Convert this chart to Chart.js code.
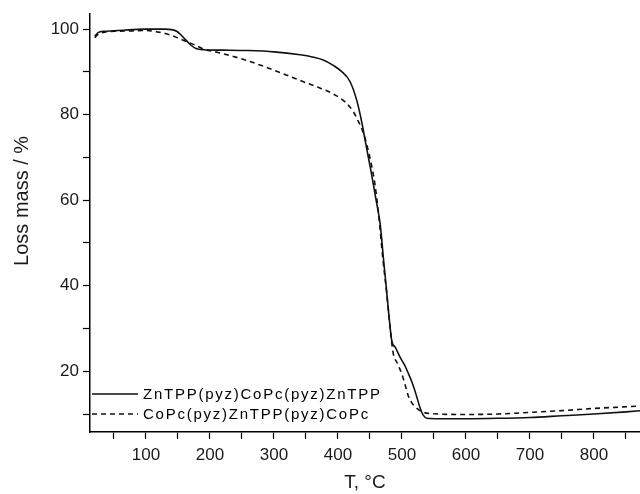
<!DOCTYPE html>
<html>
<head>
<meta charset="utf-8">
<script src="https://cdn.jsdelivr.net/npm/chart.js@4/dist/chart.umd.min.js"></script>
<style>
  html, body { margin: 0; padding: 0; background: #fff; }
  #wrap { width: 640px; height: 494px; }
</style>
</head>
<body>
<div id="wrap"><canvas id="chart"></canvas></div>
<script>
// series names (legend)
const seriesNames = ['ZnTPP(pyz)CoPc(pyz)ZnTPP', 'CoPc(pyz)ZnTPP(pyz)CoPc'];

// ZnTPP(pyz)CoPc(pyz)ZnTPP - solid
const zntppTemp = [20, 25, 35, 50, 80, 100, 130, 140, 148, 155, 162, 170, 178, 190, 220, 260, 300, 341, 360, 377, 392, 405, 419, 430, 437, 445, 452, 459, 466, 471, 476, 480, 484, 490, 497, 504, 510, 516, 522, 528, 533, 539, 560, 600, 650, 700, 750, 800, 850, 875];
const zntppMass = [98.3, 99.2, 99.5, 99.6, 99.9, 100, 100, 99.9, 99.5, 98.6, 97.5, 96.3, 95.5, 95.2, 95.1, 95.0, 94.7, 94.0, 93.5, 92.8, 91.6, 90.2, 87.7, 83.0, 78.4, 72.0, 66.5, 60.5, 54.4, 46.5, 38.8, 32.5, 27.2, 25.5, 23.3, 21.5, 19.5, 17.3, 14.6, 11.6, 9.8, 9.0, 8.9, 8.9, 9.0, 9.2, 9.6, 10.0, 10.5, 10.8];

// CoPc(pyz)ZnTPP(pyz)CoPc - dashed
const copcTemp = [20, 25, 35, 50, 80, 100, 120, 139, 152, 165, 178, 191, 205, 222, 255, 286, 319, 346, 367, 392, 411, 424, 432, 439, 445, 452, 458, 464, 470, 476, 481, 486, 493, 500, 505, 510, 516, 523, 532, 544, 600, 650, 700, 750, 800, 850, 875];
const copcMass = [98.0, 98.8, 99.3, 99.5, 99.6, 99.7, 99.3, 98.6, 97.8, 97.0, 96.2, 95.3, 94.8, 94.2, 92.8, 91.2, 89.3, 87.7, 86.5, 84.9, 83.0, 80.7, 78.4, 76.0, 73.0, 68.5, 63.5, 56, 46.5, 38.5, 31, 24.5, 21.8, 19.3, 16.8, 14.2, 12.5, 11.4, 10.5, 10.1, 9.9, 10.0, 10.4, 10.8, 11.3, 11.7, 11.9];

// axis ticks (every other one gets a label)
const xTicks = [50, 100, 150, 200, 250, 300, 350, 400, 450, 500, 550, 600, 650, 700, 750, 800, 850];
const yTicks = [10, 20, 30, 40, 50, 60, 70, 80, 90, 100];

const toPoints = (xs, ys) => xs.map((x, i) => ({ x: x, y: ys[i] }));
const FONT = '"Liberation Sans", Arial, sans-serif';

// legend drawn inside the plot, bottom-left
const insideLegend = {
  id: 'insideLegend',
  afterDatasetsDraw(chart) {
    const { ctx, chartArea } = chart;
    ctx.save();
    ctx.font = '15px ' + FONT;
    ctx.letterSpacing = '1.75px';
    ctx.fillStyle = '#000';
    ctx.textBaseline = 'middle';
    chart.data.datasets.forEach((ds, i) => {
      const y = chartArea.bottom - 38 + i * 20;
      ctx.strokeStyle = ds.borderColor;
      ctx.lineWidth = 1.4;
      ctx.setLineDash(ds.borderDash || []);
      ctx.beginPath();
      ctx.moveTo(chartArea.left + 2, y);
      ctx.lineTo(chartArea.left + 48, y);
      ctx.stroke();
      ctx.fillText(ds.label, chartArea.left + 53, y + 1);
    });
    ctx.restore();
  }
};

new Chart(document.getElementById('chart'), {
  type: 'line',
  data: {
    datasets: [{
      label: seriesNames[0],
      data: toPoints(zntppTemp, zntppMass),
      borderColor: '#111',
      borderWidth: 1.6,
      pointRadius: 0,
      cubicInterpolationMode: 'monotone'
    }, {
      label: seriesNames[1],
      data: toPoints(copcTemp, copcMass),
      borderColor: '#111',
      borderWidth: 1.6,
      borderDash: [5, 4],
      pointRadius: 0,
      cubicInterpolationMode: 'monotone'
    }]
  },
  options: {
    responsive: true,
    maintainAspectRatio: false,
    animation: false,
    devicePixelRatio: 1,
    layout: { padding: { top: 12, right: 0, bottom: 0, left: 0 } },
    plugins: {
      legend: { display: false },
      tooltip: { enabled: false }
    },
    scales: {
      x: {
        type: 'linear',
        min: 12.5,
        max: 872,
        border: { color: '#000', width: 1.5 },
        grid: { drawOnChartArea: false, color: '#000', tickLength: 7, tickWidth: 1.2 },
        afterBuildTicks: s => { s.ticks = xTicks.map(v => ({ value: v })); },
        afterFit: s => { s.height = 62; },
        ticks: {
          autoSkip: false,
          maxRotation: 0,
          padding: 6,
          color: '#1a1a1a',
          font: { family: FONT, size: 17 },
          callback: v => (v % 100 === 0 ? v : '')
        },
        title: {
          display: true,
          text: 'T, °C',
          color: '#1a1a1a',
          font: { family: FONT, size: 19 },
          padding: { top: 0, bottom: 0 }
        }
      },
      y: {
        min: 5.8,
        max: 103.5,
        border: { color: '#000', width: 1.5 },
        grid: { drawOnChartArea: false, color: '#000', tickLength: 7, tickWidth: 1.2 },
        afterBuildTicks: s => { s.ticks = yTicks.map(v => ({ value: v })); },
        afterFit: s => { s.width = 90; },
        ticks: {
          autoSkip: false,
          padding: 4,
          color: '#1a1a1a',
          font: { family: FONT, size: 17 },
          callback: v => (v % 20 === 0 ? v : '')
        },
        title: {
          display: true,
          text: '        Loss mass / %',
          color: '#1a1a1a',
          font: { family: FONT, size: 20 },
          padding: { top: 10, bottom: 0 }
        }
      }
    }
  },
  plugins: [insideLegend]
});
</script>
</body>
</html>
